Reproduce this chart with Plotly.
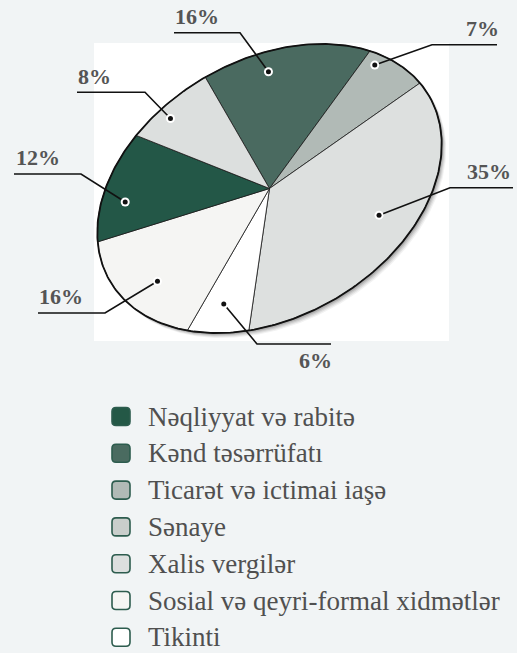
import numpy as np
import plotly.graph_objects as go

# ---------------- data ----------------
categories = ["Kənd təsərrüfatı", "Ticarət və ictimai iaşə", "Sənaye", "Tikinti",
              "Sosial və qeyri-formal xidmətlər", "Nəqliyyat və rabitə", "Xalis vergilər"]
values = [16, 7, 35, 6, 16, 12, 8]
pct_labels = ["16%", "7%", "35%", "6%", "16%", "12%", "8%"]
legend_order = ["Nəqliyyat və rabitə", "Kənd təsərrüfatı", "Ticarət və ictimai iaşə", "Sənaye",
                "Xalis vergilər", "Sosial və qeyri-formal xidmətlər", "Tikinti"]

# ---------------- style ----------------
slice_colors = {
    "Kənd təsərrüfatı": "#4a6a60",
    "Ticarət və ictimai iaşə": "#b1bab6",
    "Sənaye": "#dde0df",
    "Tikinti": "#ffffff",
    "Sosial və qeyri-formal xidmətlər": "#f5f5f3",
    "Nəqliyyat və rabitə": "#235747",
    "Xalis vergilər": "#dcdfde",
}
legend_colors = {
    "Nəqliyyat və rabitə": "#245846",
    "Kənd təsərrüfatı": "#4a6b60",
    "Ticarət və ictimai iaşə": "#b1bab6",
    "Sənaye": "#c9cecb",
    "Xalis vergilər": "#dcdfde",
    "Sosial və qeyri-formal xidmətlər": "#f5f5f3",
    "Tikinti": "#ffffff",
}
BG = "#f1f4f5"
W, H = 517, 653
SERIF = "Liberation Serif, Times New Roman, serif"

# ellipse geometry (pixel-like data units)
CX, CY = 269.5, 188.5
A, B = 184.5, 128.5
TILT = np.radians(30)
START = 90.0

# label layout: dot angle nudge (deg), dot radius fraction, elbow, line end x, text anchor
label_layout = [
    dict(dt=7.3, r=0.85, elbow=(240, 32.7), end=174, tx=173, ty=31, xa="left", ya="bottom"),
    dict(dt=7.2, r=0.93, elbow=(432, 44.7), end=497, tx=501, ty=43, xa="right", ya="bottom"),
    dict(dt=1.9, r=0.75, elbow=(450, 187.7), end=513, tx=513, ty=186, xa="right", ya="bottom"),
    dict(dt=-1.7, r=0.80, elbow=(257, 344), end=331, tx=334, ty=346, xa="right", ya="top"),
    dict(dt=2.9, r=0.80, elbow=(105, 313), end=38, tx=37, ty=311, xa="left", ya="bottom"),
    dict(dt=6.2, r=0.855, elbow=(81, 174), end=14, tx=14, ty=172, xa="left", ya="bottom"),
    dict(dt=3.4, r=0.90, elbow=(145, 92.3), end=77, tx=76, ty=90.5, xa="left", ya="bottom"),
]


def ell(t_deg, r=1.0, dx=0.0, dy=0.0):
    t = np.radians(t_deg)
    u = r * A * np.cos(t)
    v = r * B * np.sin(t)
    x = CX + u * np.cos(TILT) - v * np.sin(TILT) + dx
    y = CY - (u * np.sin(TILT) + v * np.cos(TILT)) + dy
    return x, y


fig = go.Figure()

# shadow
full = np.linspace(0, 360, 361)
for k, op in [(5, 0.05), (4, 0.07), (3, 0.09), (2, 0.12), (1, 0.15)]:
    sx, sy = ell(full, 1.0, dx=k * 0.9, dy=k * 1.0)
    fig.add_trace(go.Scatter(x=sx, y=sy, mode="lines", fill="toself",
                             fillcolor=f"rgba(0,0,0,{op})", line=dict(width=0),
                             hoverinfo="skip", showlegend=False))

# slices
total = sum(values)
cum = START
mids = []
for cat, val in zip(categories, values):
    span = 360.0 * val / total
    ts = np.linspace(cum, cum - span, max(int(span * 2), 4))
    ax, ay = ell(ts)
    xs = np.concatenate([[CX], ax, [CX]])
    ys = np.concatenate([[CY], ay, [CY]])
    fig.add_trace(go.Scatter(x=xs, y=ys, mode="lines", fill="toself",
                             fillcolor=slice_colors[cat], line=dict(color="#1a1a1a", width=0.8),
                             name=cat, hoverinfo="name", showlegend=False))
    mids.append(cum - span / 2)
    cum -= span

# outline
ox, oy = ell(full)
fig.add_trace(go.Scatter(x=ox, y=oy, mode="lines", line=dict(color="#111111", width=1.8),
                         hoverinfo="skip", showlegend=False))

# leader lines, dots, labels
annotations = []
for i, (lab, lay) in enumerate(zip(pct_labels, label_layout)):
    dxp, dyp = ell(mids[i] + lay["dt"], lay["r"])
    ex, ey = lay["elbow"]
    fig.add_trace(go.Scatter(x=[dxp, ex, lay["end"]], y=[dyp, ey, ey], mode="lines",
                             line=dict(color="#111111", width=1.6),
                             hoverinfo="skip", showlegend=False))
    fig.add_trace(go.Scatter(x=[dxp], y=[dyp], mode="markers",
                             marker=dict(size=9, color="white", line=dict(width=0)),
                             hoverinfo="skip", showlegend=False))
    fig.add_trace(go.Scatter(x=[dxp], y=[dyp], mode="markers",
                             marker=dict(size=5, color="#111111", line=dict(width=0)),
                             hoverinfo="skip", showlegend=False))
    annotations.append(dict(x=lay["tx"], y=lay["ty"], xref="x", yref="y", text=f"<b>{lab}</b>",
                            showarrow=False, xanchor=lay["xa"], yanchor=lay["ya"],
                            font=dict(family=SERIF, size=22, color="#555555")))

# white panel behind the pie
shapes = [dict(type="rect", xref="x", yref="y", x0=94, x1=449, y0=43, y1=341,
               fillcolor="white", line=dict(width=0), layer="below")]


def rounded(cx, cy, s, rad):
    h = s / 2
    x0, x1, y0, y1 = cx - h, cx + h, cy - h, cy + h
    return (f"M {x0 + rad},{y0} L {x1 - rad},{y0} Q {x1},{y0} {x1},{y0 + rad} "
            f"L {x1},{y1 - rad} Q {x1},{y1} {x1 - rad},{y1} L {x0 + rad},{y1} "
            f"Q {x0},{y1} {x0},{y1 - rad} L {x0},{y0 + rad} Q {x0},{y0} {x0 + rad},{y0} Z")


# manual legend
LEG_Y0, LEG_DY, LEG_MX, LEG_TX, LEG_S = 416.5, 36.8, 121, 146, 18
for j, cat in enumerate(legend_order):
    yc = LEG_Y0 + j * LEG_DY
    shapes.append(dict(type="path", xref="x", yref="y", path=rounded(LEG_MX, yc, LEG_S, 4),
                       fillcolor=legend_colors[cat], line=dict(color="#2d5c4e", width=1.6)))
    annotations.append(dict(x=LEG_TX, y=yc, xref="x", yref="y", text=cat, showarrow=False,
                            xanchor="left", yanchor="middle",
                            font=dict(family=SERIF, size=27, color="#505050")))

fig.update_layout(
    width=W, height=H, margin=dict(l=0, r=0, t=0, b=0),
    paper_bgcolor=BG, plot_bgcolor=BG,
    xaxis=dict(range=[0, W], visible=False, fixedrange=True),
    yaxis=dict(range=[H, 0], visible=False, fixedrange=True),
    shapes=shapes, annotations=annotations, showlegend=False,
)

fig.write_html("out.html", config={"displayModeBar": False},
               post_script=f"document.body.style.margin='0';document.body.style.overflow='hidden';"
                           f"document.body.style.background='{BG}';")
